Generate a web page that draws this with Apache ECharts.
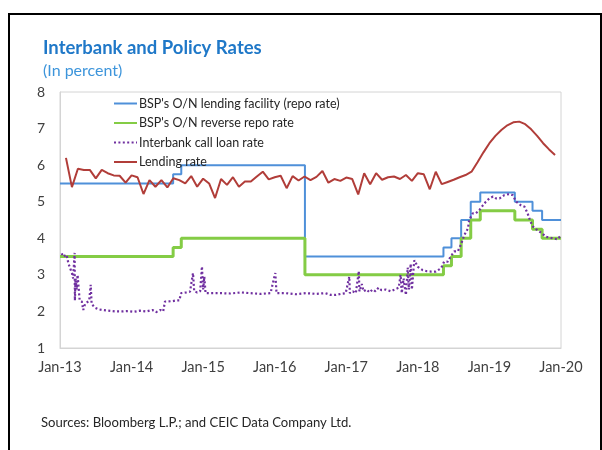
<!DOCTYPE html>
<html>
<head>
<meta charset="utf-8">
<script src="https://cdn.jsdelivr.net/npm/echarts@6/dist/echarts.min.js"></script>
<style>
  html, body { margin: 0; padding: 0; background: #ffffff; }
  #chart { width: 602px; height: 450px; }
</style>
</head>
<body>
<div id="chart"></div>
<script>
// ---- Data -------------------------------------------------------------
// Policy rate changes: date the new rate takes effect, and the rate (%).
const policyDates = ['2013-01-01', '2014-07-31', '2014-09-11', '2016-06-03', '2018-05-10',
  '2018-06-20', '2018-08-09', '2018-09-27', '2018-11-15', '2019-05-09', '2019-08-08',
  '2019-09-26', '2020-01-01'];
const lendingFacility = [5.5, 5.75, 6.0, 3.5, 3.75, 4.0, 4.5, 5.0, 5.25, 5.0, 4.75, 4.5, 4.5];
const reverseRepo = [3.5, 3.75, 4.0, 3.0, 3.25, 3.5, 4.0, 4.5, 4.75, 4.5, 4.25, 4.0, 4.0];

// Average bank lending rate, monthly from Jan-2013 to Nov-2019 (%).
const lendingRate = [
  6.20, 5.40, 5.90, 5.87, 5.87, 5.64, 5.87, 5.78, 5.72, 5.71, 5.52, 5.72,
  5.67, 5.21, 5.59, 5.41, 5.59, 5.39, 5.64, 5.59, 5.50, 5.70, 5.41, 5.63,
  5.50, 5.10, 5.62, 5.46, 5.67, 5.41, 5.55, 5.55, 5.69, 5.82, 5.61, 5.67,
  5.71, 5.37, 5.70, 5.58, 5.69, 5.59, 5.68, 5.84, 5.52, 5.62, 5.57, 5.66,
  5.62, 5.20, 5.78, 5.48, 5.78, 5.60, 5.67, 5.69, 5.62, 5.73, 5.57, 5.78,
  5.75, 5.34, 5.82, 5.48, 5.54, 5.60, 5.67, 5.73, 5.82, 6.08, 6.35, 6.60,
  6.80, 6.96, 7.09, 7.17, 7.19, 7.12, 6.98, 6.80, 6.60, 6.43, 6.28
];

// Interbank call loan rate: [months since Jan-2013, rate %].
const interbankRate = [
  [0.3, 3.59], [0.5, 3.50], [0.8, 3.45], [1.1, 3.55], [1.4, 3.32], [1.7, 3.18],
  [2.0, 3.05], [2.2, 2.90], [2.45, 3.60], [2.5, 2.30], [2.6, 2.90], [2.8, 2.60],
  [2.95, 3.00], [3.1, 2.70], [3.3, 2.30], [3.65, 2.27], [3.9, 2.04], [4.2, 2.20],
  [4.5, 2.15], [4.9, 2.30], [5.15, 2.73], [5.3, 2.20], [5.55, 2.15], [5.9, 2.10],
  [6.4, 2.06], [7.0, 2.04], [8.1, 2.02], [9.2, 2.00], [10.4, 2.00], [11.4, 2.01],
  [12.4, 1.99], [13.4, 2.02], [14.5, 2.00], [15.5, 2.04], [16.1, 1.98], [16.8, 2.04],
  [17.3, 2.00], [17.6, 2.27], [18.8, 2.28], [19.5, 2.30], [20.0, 2.30], [20.3, 2.50],
  [21.2, 2.52], [21.8, 2.54], [22.3, 3.05], [22.5, 2.55], [23.0, 2.52], [23.5, 2.55],
  [23.8, 3.23], [24.0, 2.60], [24.2, 2.95], [24.4, 2.50], [25.2, 2.50], [26.9, 2.50],
  [28.6, 2.49], [30.3, 2.52], [31.9, 2.50], [33.6, 2.48], [35.3, 2.50], [36.1, 3.05],
  [36.3, 2.50], [37.8, 2.50], [39.5, 2.47], [41.2, 2.50], [42.9, 2.48], [44.5, 2.50],
  [45.4, 2.45], [46.2, 2.45], [47.1, 2.48], [47.9, 2.50], [48.5, 2.95], [48.6, 2.50],
  [49.1, 2.55], [49.6, 2.50], [50.1, 3.10], [50.2, 2.55], [50.6, 2.75], [50.9, 2.55],
  [51.4, 2.60], [51.9, 2.52], [52.4, 2.60], [52.9, 2.55], [53.4, 2.65], [53.9, 2.58],
  [54.6, 2.60], [55.5, 2.55], [56.1, 2.60], [56.8, 2.65], [57.1, 3.00], [57.3, 2.50],
  [57.6, 2.90], [58.0, 2.45], [58.3, 3.20], [58.5, 2.60], [58.8, 3.30], [59.0, 2.60],
  [59.4, 3.40], [60.0, 3.22], [60.8, 3.13], [61.5, 3.10], [62.2, 3.09], [63.0, 3.09],
  [63.9, 3.18], [64.4, 3.36], [65.0, 3.36], [65.5, 3.50], [66.1, 3.64], [66.7, 3.64],
  [67.2, 3.82], [67.8, 4.09], [68.4, 4.27], [68.6, 4.50], [69.2, 4.68], [69.7, 4.68],
  [70.3, 4.77], [70.9, 4.90], [71.4, 5.00], [72.0, 5.09], [72.6, 5.14], [73.1, 5.09],
  [73.7, 5.09], [74.5, 5.18], [75.3, 5.21], [75.9, 5.18], [76.5, 5.00], [77.3, 4.90],
  [77.9, 4.86], [78.4, 4.68], [78.9, 4.45], [79.3, 4.32], [79.8, 4.25], [80.7, 4.15],
  [81.5, 4.04], [82.6, 4.00], [83.4, 3.97], [84.0, 4.08]
];

const yearLabels = ['Jan-13', 'Jan-14', 'Jan-15', 'Jan-16', 'Jan-17', 'Jan-18', 'Jan-19', 'Jan-20'];

// ---- Helpers ----------------------------------------------------------
// Fractional months elapsed since 1 Jan 2013.
function monthsSince2013(iso) {
  const [y, m, d] = iso.split('-').map(Number);
  const days = new Date(y, m, 0).getDate();
  return (y - 2013) * 12 + (m - 1) + (d - 1) / days;
}
const policyX = policyDates.map(monthsSince2013);
const pair = (xs, ys) => xs.map((x, i) => [x, ys[i]]);

const FONT = 'Lato';

const chart = echarts.init(document.getElementById('chart'), null, { renderer: 'canvas' });
chart.setOption({
  backgroundColor: '#ffffff',
  animation: false,
  textStyle: { fontFamily: FONT },
  title: [
    {
      text: 'Interbank and Policy Rates',
      subtext: '(In percent)',
      left: 38, top: 34,
      itemGap: 5,
      textStyle: { fontFamily: FONT, fontSize: 18.5, fontWeight: 'bold', color: '#1f78c8' },
      subtextStyle: { fontFamily: FONT, fontSize: 16, color: '#3d95db' }
    },
    {
      text: 'Sources: Bloomberg L.P.; and CEIC Data Company Ltd.',
      left: 36, top: 411,
      textStyle: { fontFamily: FONT, fontSize: 13.1, fontWeight: 'normal', color: '#262626' }
    }
  ],
  graphic: [
    { type: 'polyline', shape: { points: [[9, 460], [9, 14], [601, 14], [601, 460]] },
      style: { stroke: '#000000', lineWidth: 2, fill: null } }
  ],
  legend: {
    orient: 'vertical',
    left: 113, top: 97, padding: 0,
    itemWidth: 23, itemHeight: 12, itemGap: 6.5,
    itemStyle: { opacity: 0 },
    textStyle: { fontFamily: FONT, fontSize: 12.5, color: '#262626', padding: [0, 0, 0, -3] },
    data: ["BSP's O/N lending facility (repo rate)", "BSP's O/N reverse repo rate",
      'Interbank call loan rate', 'Lending rate']
  },
  grid: {
    left: 60, right: 41, top: 92, bottom: 102,
    show: true, borderColor: '#d4d4d4', borderWidth: 1,
    containLabel: false, outerBoundsMode: 'none'
  },
  xAxis: {
    type: 'value', min: 0, max: 84, interval: 12,
    axisLine: { show: true, lineStyle: { color: '#d4d4d4' } },
    axisTick: { show: false },
    splitLine: { show: false },
    axisLabel: {
      margin: 12, fontFamily: FONT, fontSize: 14.5, color: '#404040',
      formatter: v => yearLabels[Math.round(v / 12)]
    }
  },
  yAxis: {
    type: 'value', min: 1, max: 8, interval: 1,
    axisLine: { show: true, lineStyle: { color: '#d4d4d4' } },
    axisTick: { show: false },
    splitLine: { show: false },
    axisLabel: { margin: 15, fontFamily: FONT, fontSize: 14, color: '#404040' }
  },
  series: [
    {
      name: "BSP's O/N lending facility (repo rate)",
      type: 'line', step: 'end', showSymbol: false, symbol: 'none',
      data: pair(policyX, lendingFacility),
      lineStyle: { color: '#4f90d9', width: 2 },
      itemStyle: { color: '#4f90d9' }
    },
    {
      name: "BSP's O/N reverse repo rate",
      type: 'line', step: 'end', showSymbol: false, symbol: 'none',
      data: pair(policyX, reverseRepo),
      lineStyle: { color: '#84cc45', width: 3 },
      itemStyle: { color: '#84cc45' }
    },
    {
      name: 'Interbank call loan rate',
      type: 'line', showSymbol: false, symbol: 'none',
      data: interbankRate,
      lineStyle: { color: '#7030a0', width: 2.2, type: [2, 2.4] },
      itemStyle: { color: '#7030a0' }
    },
    {
      name: 'Lending rate',
      type: 'line', showSymbol: false, symbol: 'none',
      data: lendingRate.map((v, i) => [i + 1, v]),
      lineStyle: { color: '#b13d39', width: 2 },
      itemStyle: { color: '#b13d39' }
    }
  ]
});
</script>
</body>
</html>
